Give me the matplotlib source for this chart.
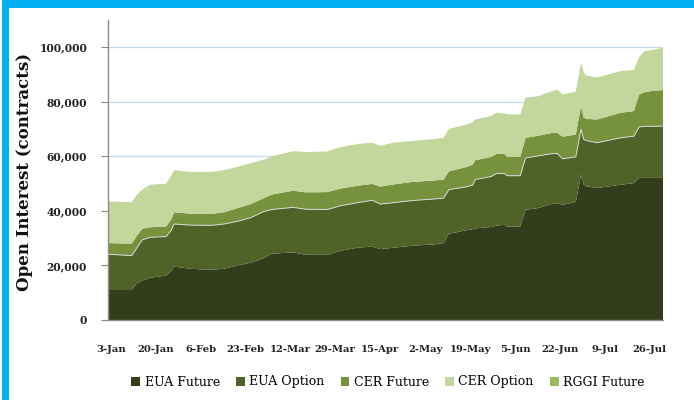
import matplotlib
matplotlib.use("Agg")
import matplotlib.pyplot as plt
import pandas as pd
from matplotlib.patches import Patch, Rectangle

dates = ["2009-01-02", "2009-01-11", "2009-01-13", "2009-01-15", "2009-01-18",
         "2009-01-24", "2009-01-26", "2009-01-27", "2009-02-02", "2009-02-10",
         "2009-02-15", "2009-02-21", "2009-02-25", "2009-03-02", "2009-03-05",
         "2009-03-13", "2009-03-18", "2009-03-26", "2009-03-31", "2009-04-07",
         "2009-04-12", "2009-04-15", "2009-04-20", "2009-04-27", "2009-05-06",
         "2009-05-09", "2009-05-11", "2009-05-18", "2009-05-20", "2009-05-21",
         "2009-05-27", "2009-05-29", "2009-06-01", "2009-06-02", "2009-06-07",
         "2009-06-09", "2009-06-14", "2009-06-19", "2009-06-21", "2009-06-23",
         "2009-06-28", "2009-06-30", "2009-07-01", "2009-07-02", "2009-07-06",
         "2009-07-15", "2009-07-20", "2009-07-22", "2009-07-24", "2009-07-27",
         "2009-07-31"]

eua_future = [11000, 11000, 13500, 14500, 15500, 16300, 18000, 19600, 18800, 18400,
              18800, 20200, 21000, 22700, 24300, 24800, 23900, 23900, 25400, 26600,
              26900, 26000, 26500, 27200, 27800, 28200, 31600, 33000, 33300, 33600,
              34100, 34600, 34900, 34300, 34300, 40400, 41100, 42600, 42800, 42200,
              43300, 53300, 49600, 49000, 48400, 49600, 50200, 52100, 52100, 52100,
              52100]
eua_option = [13100, 12600, 13000, 14900, 14800, 14300, 15000, 15600, 16000, 16300,
              16400, 16200, 16500, 17100, 16200, 16500, 16700, 16600, 16500, 16500,
              17000, 16500, 16500, 16600, 16600, 16500, 16200, 15900, 16200, 17900,
              18500, 19100, 18800, 18600, 18600, 19000, 19100, 18400, 18200, 16900,
              16500, 16600, 16600, 16800, 16600, 17200, 17200, 18700, 18900, 18900,
              19000]
cer_future = [4100, 4400, 4500, 4100, 3700, 3700, 4000, 4300, 4200, 4200,
              4300, 4900, 5000, 4900, 5500, 6100, 6200, 6400, 6300, 6200,
              6000, 6400, 6700, 6800, 6800, 6800, 6700, 7300, 7500, 7100,
              7200, 7200, 7200, 6900, 6900, 7400, 7400, 7600, 7600, 8100,
              8200, 8500, 8000, 8000, 8500, 9200, 9200, 11900, 12500, 13000,
              13200]
cer_option = [15300, 15200, 15000, 14300, 15600, 15700, 16000, 15400, 15300, 15400,
              15500, 15100, 15000, 14100, 14000, 14500, 14800, 14900, 15200, 15300,
              15100, 15000, 15300, 15000, 15200, 15300, 15600, 15500, 15500, 14900,
              15000, 15100, 14800, 15600, 15600, 14700, 14500, 15300, 16000, 15500,
              15700, 16000, 16500, 15900, 15400, 15300, 15100, 13800, 15100, 15000,
              15600]
rggi_future = [0, 0, 0, 0, 0, 0, 0, 0, 0, 0,
               0, 0, 0, 0, 0, 0, 0, 0, 0, 0,
               0, 0, 0, 0, 0, 0, 0, 0, 0, 0,
               0, 0, 0, 0, 0, 0, 0, 0, 0, 0,
               0, 0, 0, 0, 0, 0, 0, 0, 0, 0,
               0]

series_names = ["EUA Future", "EUA Option", "CER Future", "CER Option", "RGGI Future"]
colors = ["#333D1B", "#4F6228", "#76923C", "#C3D69B", "#9BBB59"]

tick_dates = ["2009-01-03", "2009-01-20", "2009-02-06", "2009-02-23", "2009-03-12",
              "2009-03-29", "2009-04-15", "2009-05-02", "2009-05-19", "2009-06-05",
              "2009-06-22", "2009-07-09", "2009-07-26"]
tick_labels = ["3-Jan", "20-Jan", "6-Feb", "23-Feb", "12-Mar", "29-Mar", "15-Apr",
               "2-May", "19-May", "5-Jun", "22-Jun", "9-Jul", "26-Jul"]
y_ticks = [0, 20000, 40000, 60000, 80000, 100000]

serif = ["DejaVu Serif"]

x = pd.to_datetime(dates)
fig = plt.figure(figsize=(6.94, 4.0), dpi=100)
ax = fig.add_axes([108/694, 80/400, 555/694, 300/400])

ax.stackplot(x, eua_future, eua_option, cer_future, cer_option, rggi_future,
             colors=colors, labels=series_names, linewidth=0)
top_opt = [a + b for a, b in zip(eua_future, eua_option)]
ax.plot(x, top_opt, color="#D8D8D8", lw=0.7, zorder=3)

ax.set_xlim(pd.Timestamp("2009-01-02"), pd.Timestamp("2009-07-31"))
ax.set_ylim(0, 110000)
ax.set_yticks(y_ticks)
ax.set_yticklabels([f"{v:,}" for v in y_ticks], fontfamily=serif, fontsize=7.7, fontweight="bold")
ax.set_xticks(pd.to_datetime(tick_dates))
ax.set_xticklabels(tick_labels, fontfamily=serif, fontsize=7.2, fontweight="bold")
ax.tick_params(axis="x", length=0, pad=18, colors="#222222")
ax.tick_params(axis="y", length=5, pad=10, color="#888888", colors="#222222", direction="out")
ax.yaxis.grid(True, color="#C6D9F1", lw=0.9)
ax.set_axisbelow(True)
for s in ["top", "right"]:
    ax.spines[s].set_visible(False)
for s in ["left", "bottom"]:
    ax.spines[s].set_color("#8C8C8C")
    ax.spines[s].set_linewidth(1.0)

fig.text(25/694, 1 - 172/400, "Open Interest (contracts)", rotation=90, ha="center", va="center",
         fontfamily=serif, fontsize=12, fontweight="bold", color="#111111")

handles = [Patch(facecolor=c, edgecolor="none") for c in colors]
fig.legend(handles, series_names, loc="center", bbox_to_anchor=(388/694, 1 - 382/400), ncol=5,
           frameon=False, handlelength=0.7, handleheight=0.7, handletextpad=0.35,
           columnspacing=1.3, prop={"family": serif, "size": 9})

# blue frame (top and left)
fig.patches.append(Rectangle((2/694, 1 - 8/400), 692/694, 8/400, transform=fig.transFigure,
                             facecolor="#00B0F0", edgecolor="none"))
fig.patches.append(Rectangle((2/694, 0), 7/694, 1, transform=fig.transFigure,
                             facecolor="#00B0F0", edgecolor="none"))

fig.savefig("out.png", dpi=100)
